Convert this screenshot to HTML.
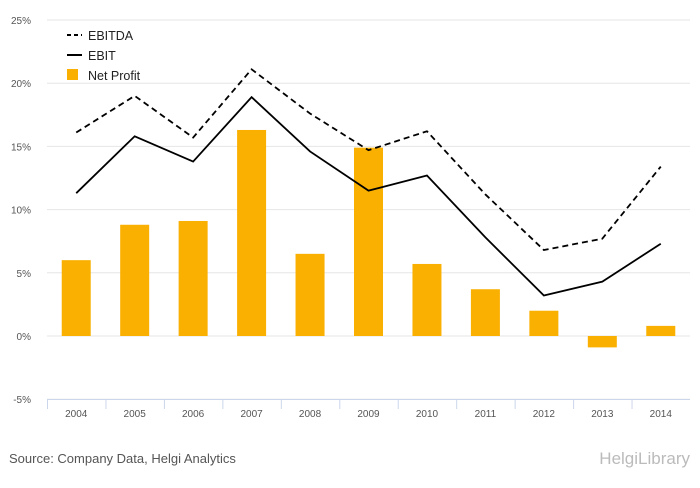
<!DOCTYPE html>
<html><head><meta charset="utf-8"><style>
body{margin:0;background:#fff;font-family:"Liberation Sans",sans-serif}
svg text{font-family:"Liberation Sans",sans-serif}
</style></head><body>
<svg width="700" height="483">
<g id="grid"></g>
<g id="bars"></g>
<g id="lines"></g>
<g id="xaxis"></g>
<g>
<line x1="67" y1="35" x2="82" y2="35" stroke="#000" stroke-width="2" stroke-dasharray="4,3"/>
<text x="88" y="40" font-size="12.5" fill="#222">EBITDA</text>
<line x1="67" y1="55" x2="82" y2="55" stroke="#000" stroke-width="2"/>
<text x="88" y="60" font-size="12.5" fill="#222">EBIT</text>
<rect x="67" y="69" width="11" height="11" fill="#f9b000"/>
<text x="88" y="80" font-size="12.5" fill="#222">Net Profit</text>
</g>
<text x="9" y="463" font-size="13" fill="#555">Source: Company Data, Helgi Analytics</text>
<text x="690" y="464" font-size="17" fill="#bbb" text-anchor="end">HelgiLibrary</text>
</svg>
<script>
const years=["2004","2005","2006","2007","2008","2009","2010","2011","2012","2013","2014"];
const netProfit=[6.0,8.8,9.1,16.3,6.5,14.9,5.7,3.7,2.0,-0.9,0.8];
const ebitda=[16.1,19.0,15.7,21.1,17.6,14.7,16.2,11.2,6.8,7.7,13.4];
const ebit=[11.3,15.8,13.8,18.9,14.6,11.5,12.7,7.8,3.2,4.3,7.3];
const yTicks=[-5,0,5,10,15,20,25];
const NS="http://www.w3.org/2000/svg";
const x0=47,x1=690,band=(x1-x0)/years.length;
const y=v=>336-v*12.64;
const xc=i=>x0+band*(i+0.5);
function mk(t,a,p){const e=document.createElementNS(NS,t);for(const k in a)e.setAttribute(k,a[k]);p.appendChild(e);return e;}
const grid=document.getElementById('grid');
yTicks.forEach(v=>{
 const l=mk('line',{x1:x0,x2:x1,y1:y(v),y2:y(v),stroke:'#e6e6e6'},grid);
 
 
 const t=mk('text',{x:31,y:y(v)+4,'font-size':10,fill:'#555','text-anchor':'end'},grid);
 t.textContent=v+'%';
 
 
});
const xa=document.getElementById('xaxis');
const ax=mk('line',{x1:x0,x2:x1,y1:399.5,y2:399.5,stroke:'#ccd6eb'},xa);


years.forEach((yr,i)=>{
 const tk=mk('line',{x1:x0+band*i+.5,x2:x0+band*i+.5,y1:399,y2:409,stroke:'#ccd6eb'},xa);
 
 
 const t=mk('text',{x:xc(i),y:417,'font-size':10,fill:'#555','text-anchor':'middle'},xa);
 t.textContent=yr;
 
 
});
const bars=document.getElementById('bars');
netProfit.forEach((v,i)=>{
 const r=mk('rect',{x:xc(i)-14.5,width:29,y:Math.min(y(v),y(0)),height:Math.abs(y(v)-y(0)),fill:'#f9b000'},bars);
 
 
});
const lines=document.getElementById('lines');
const pts=a=>a.map((v,i)=>xc(i)+','+y(v)).join(' ');
const p1=mk('polyline',{points:pts(ebitda),fill:'none',stroke:'#000','stroke-width':1.8,'stroke-dasharray':'6,4'},lines);


const p2=mk('polyline',{points:pts(ebit),fill:'none',stroke:'#000','stroke-width':1.8},lines);


</script>
</body></html>
